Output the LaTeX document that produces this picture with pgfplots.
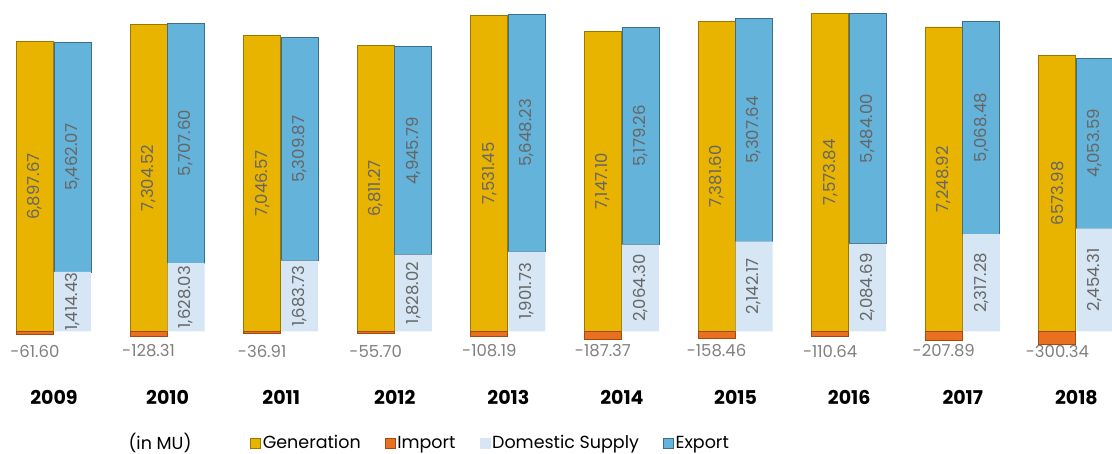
\documentclass[border=0pt]{standalone}
\usepackage{fontspec}
\setmainfont{Poppins}
\usepackage{pgfplots}
\usepackage{pgfplotstable}
\pgfplotsset{compat=1.18}

\definecolor{gencol}{HTML}{E9B400}
\definecolor{genedge}{HTML}{9C7700}
\definecolor{impcol}{HTML}{E8701E}
\definecolor{impedge}{HTML}{A44A0E}
\definecolor{domcol}{HTML}{D6E6F4}
\definecolor{expcol}{HTML}{64B3DA}
\definecolor{expedge}{HTML}{3D6F8C}
\definecolor{labgray}{HTML}{666666}
\definecolor{impgray}{HTML}{808080}

% year index, value, printed label
\pgfplotstableread{
x gen genlab imp implab dom domlab exp explab
0 6897.67 6,897.67 -61.60 -61.60 1414.43 1,414.43 5462.07 5,462.07
1 7304.52 7,304.52 -128.31 -128.31 1628.03 1,628.03 5707.60 5,707.60
2 7046.57 7,046.57 -36.91 -36.91 1683.73 1,683.73 5309.87 5,309.87
3 6811.27 6,811.27 -55.70 -55.70 1828.02 1,828.02 4945.79 4,945.79
4 7531.45 7,531.45 -108.19 -108.19 1901.73 1,901.73 5648.23 5,648.23
5 7147.10 7,147.10 -187.37 -187.37 2064.30 2,064.30 5179.26 5,179.26
6 7381.60 7,381.60 -158.46 -158.46 2142.17 2,142.17 5307.64 5,307.64
7 7573.84 7,573.84 -110.64 -110.64 2084.69 2,084.69 5484.00 5,484.00
8 7248.92 7,248.92 -207.89 -207.89 2317.28 2,317.28 5068.48 5,068.48
9 6573.98 6573.98 -300.34 -300.34 2454.31 2,454.31 4053.59 4,053.59
}\energy

\pgfplotsset{
  base/.style={
    scale only axis, width=1112pt, height=380pt,
    at={(0pt,74pt)}, anchor=south west,
    xmin=-0.475, xmax=9.313, ymin=-1157, ymax=7890,
    bar width=37pt,
  },
  lab/.style={
    draw=none, mark=none, forget plot,
    point meta=explicit symbolic, nodes near coords,
    every node near coord/.append style={anchor=center, inner sep=0pt,
      font=\fontsize{16.5}{16.5}\selectfont, text=labgray, #1},
  },
}

\begin{document}
\begin{tikzpicture}
\useasboundingbox (0,0) rectangle (1112pt,454pt);

\begin{axis}[base, ybar,
    axis line style={draw=none}, tick style={draw=none},
    ytick=\empty, xtick={0,...,9},
    xticklabels={2009,2010,2011,2012,2013,2014,2015,2016,2017,2018},
    xticklabel style={anchor=center, yshift=-13pt, font=\bfseries\fontsize{19}{19}\selectfont},
    legend columns=-1,
    legend style={at={(0.2248,-0.1658)}, anchor=west, draw=none, fill=none,
      inner sep=0pt, font=\fontsize{17.5}{17.5}\selectfont,
      /tikz/every even column/.append style={column sep=22pt}},
    legend image code/.code={\draw[#1, line width=0.6pt] (0pt,-5pt) rectangle (10pt,5pt);},
  ]
  \addplot[fill=gencol, draw=genedge, line width=0.8pt, bar shift=-19pt]
    table[x=x, y=gen] {\energy};
  \addplot[fill=impcol, draw=impedge, line width=0.8pt, bar shift=-19pt]
    table[x=x, y=imp] {\energy};
  \addlegendimage{fill=domcol, draw=domcol}
  \addlegendimage{fill=expcol, draw=expedge}
  \legend{Generation, Import, Domestic Supply, Export}
\end{axis}

\begin{axis}[base, ybar stacked, bar shift=18.5pt, hide axis]
  \addplot[fill=domcol, draw=none]
    table[x=x, y=dom] {\energy};
  \addplot[fill=expcol, draw=expedge, line width=0.8pt]
    table[x=x, y=exp] {\energy};
\end{axis}

% value labels: centred in each bar segment, imports on one line below
\begin{axis}[base, hide axis, clip=false]
  \addplot[lab={xshift=-19pt, rotate=90}]
    table[x=x, y expr=0.5*\thisrow{gen}, meta=genlab] {\energy};
  \addplot[lab={xshift=18.5pt, rotate=90}]
    table[x=x, y expr=0.5*\thisrow{dom}, meta=domlab] {\energy};
  \addplot[lab={xshift=18.5pt, rotate=90}]
    table[x=x, y expr=\thisrow{dom}+0.5*\thisrow{exp}, meta=explab] {\energy};
  \addplot[lab={xshift=-19pt, text=impgray}]
    table[x=x, y expr=-467, meta=implab] {\energy};
\end{axis}

\node[font=\fontsize{17.5}{17.5}\selectfont] at (160pt,11pt) {(in MU)};
\end{tikzpicture}
\end{document}
